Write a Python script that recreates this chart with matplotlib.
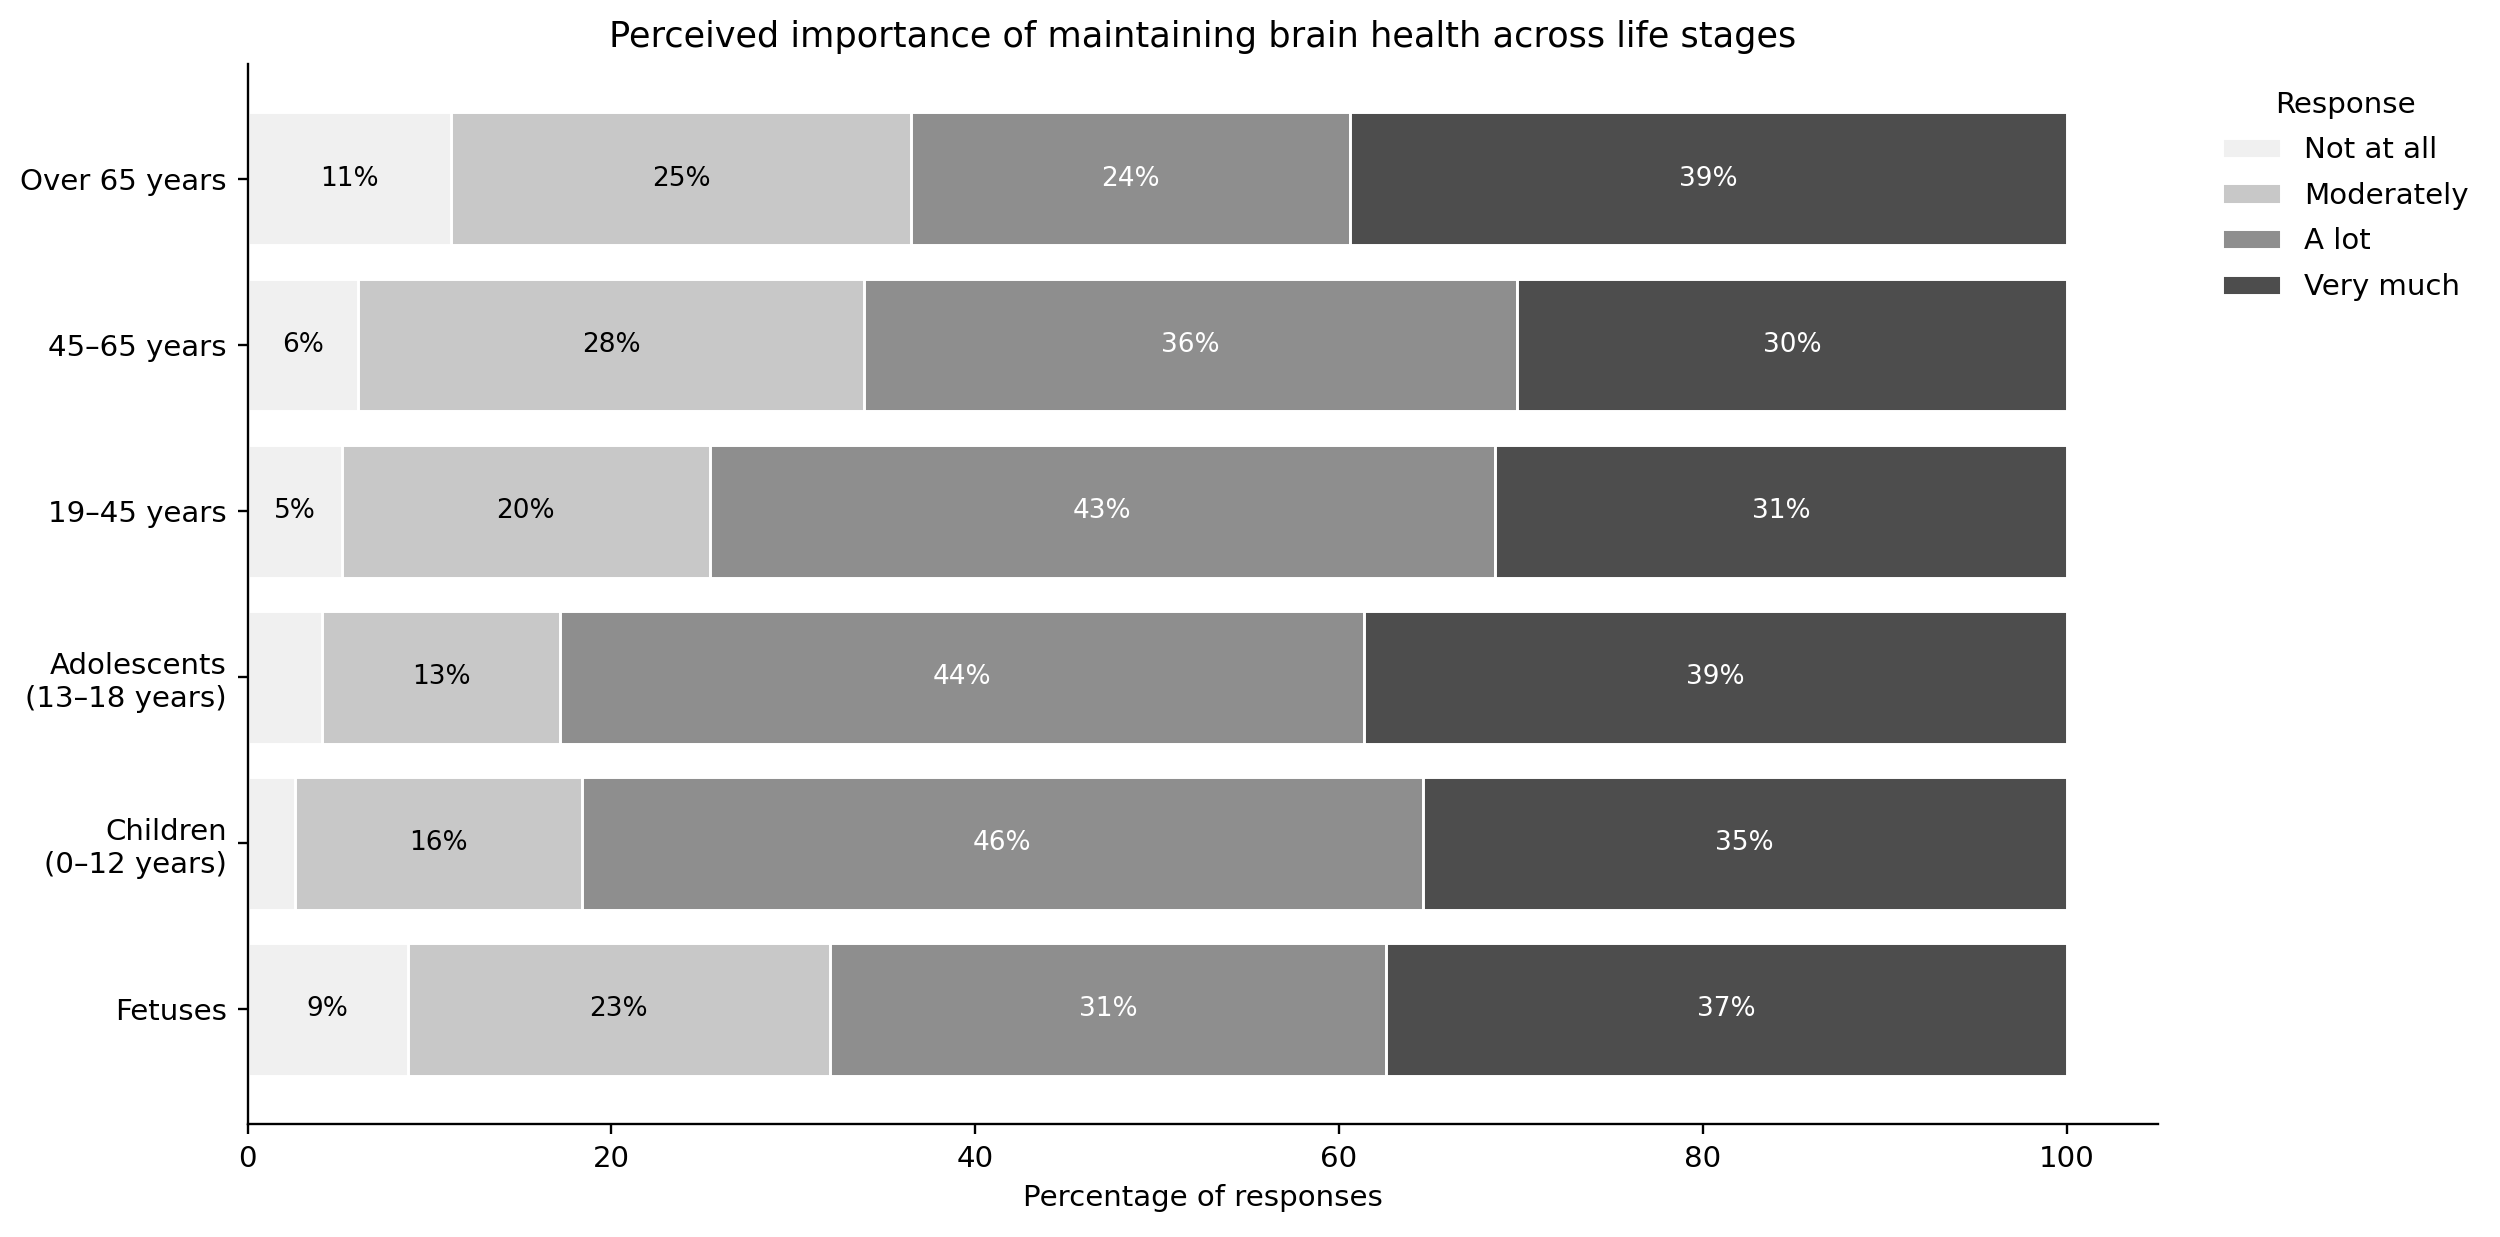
import matplotlib
matplotlib.use("Agg")
import matplotlib.pyplot as plt
import numpy as np

stages = ["Fetuses", "Children\n(0–12 years)", "Adolescents\n(13–18 years)",
          "19–45 years", "45–65 years", "Over 65 years"]
responses = ["Not at all", "Moderately", "A lot", "Very much"]

not_at_all = [8.8, 2.6, 4.1, 5.2, 6.1, 11.2]
moderately = [23.2, 15.8, 13.1, 20.2, 27.8, 25.3]
a_lot = [30.6, 46.2, 44.2, 43.2, 35.9, 24.1]
very_much = [37.4, 35.4, 38.6, 31.4, 30.2, 39.4]

colors = ["#f0f0f0", "#c8c8c8", "#8e8e8e", "#4d4d4d"]
text_colors = ["black", "black", "white", "white"]

DPI = 211


def main():
    fig, ax = plt.subplots(figsize=(2500 / DPI, 1237 / DPI), dpi=DPI)
    fig.subplots_adjust(left=0.099, right=0.863, bottom=0.0913, top=0.948)

    y = np.arange(len(stages))
    left = np.zeros(len(stages))
    for name, vals, c, tc in zip(responses, [not_at_all, moderately, a_lot, very_much],
                                 colors, text_colors):
        vals = np.array(vals)
        ax.barh(y, vals, left=left, height=0.8, color=c, edgecolor="white",
                linewidth=1, label=name)
        for yi, l, v in zip(y, left, vals):
            if v >= 5:
                ax.text(l + v / 2, yi, f"{v:.0f}%", ha="center", va="center",
                        fontsize=9, color=tc)
        left += vals

    ax.set_yticks(y)
    ax.set_yticklabels(stages)
    ax.set_xlim(0, 105)
    ax.set_xlabel("Percentage of responses")
    ax.set_title("Perceived importance of maintaining brain health across life stages",
                 fontsize=12)
    ax.spines["top"].set_visible(False)
    ax.spines["right"].set_visible(False)
    ax.legend(title="Response", loc="upper left", bbox_to_anchor=(1.02, 1.0),
              frameon=False, labelspacing=0.6)

    fig.savefig("out.png")


if __name__ == "__main__":
    main()
